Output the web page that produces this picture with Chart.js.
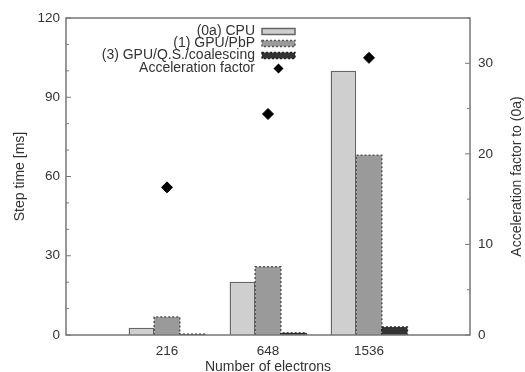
<!DOCTYPE html>
<html>
<head>
<meta charset="utf-8">
<script src="https://cdn.jsdelivr.net/npm/chart.js@4.4.1/dist/chart.umd.min.js"></script>
<style>
  html, body { margin: 0; padding: 0; background: #fff; }
  #wrap { width: 525px; height: 372px; }
</style>
</head>
<body>
<div id="wrap"><canvas id="stepChart" width="525" height="372"></canvas></div>
<script>
// categories (empty slots at both ends give the gnuplot-like spacing)
const electrons = ['', '216', '648', '1536', ''];

// step time [ms]
const cpuTimes = [null, 2.7, 20.2, 100, null];
const pbpTimes = [null, 6.8, 25.8, 68, null];
const qsTimes = [null, 0.3, 0.8, 3.0, null];

// acceleration factor to (0a)
const accelFactor = [null, 16.3, 24.4, 30.6, null];

const seriesNames = ['(0a) CPU', '(1) GPU/PbP', '(3) GPU/Q.S./coalescing', 'Acceleration factor'];

const textColor = '#333';
const axisColor = '#777';
const fontFamily = '"Liberation Sans", Arial, Helvetica, sans-serif';

// inward gnuplot style ticks + top frame
const frameTicks = {
    id: 'frameTicks',
    afterDraw(chart) {
        const c = chart.ctx;
        const a = chart.chartArea;
        c.save();
        c.strokeStyle = axisColor;
        c.lineWidth = 1.5;
        c.strokeRect(a.left, a.top, a.right - a.left, a.bottom - a.top);
        c.lineWidth = 1;
        const y = chart.scales.y;
        y.ticks.forEach(t => {
            const py = y.getPixelForValue(t.value);
            const len = (t.value % 30 === 0) ? 5 : 3;
            c.beginPath(); c.moveTo(a.left, py); c.lineTo(a.left + len, py); c.stroke();
        });
        const y1 = chart.scales.y1;
        y1.ticks.forEach(t => {
            const py = y1.getPixelForValue(t.value);
            const len = (t.value % 10 === 0) ? 5 : 3;
            c.beginPath(); c.moveTo(a.right, py); c.lineTo(a.right - len, py); c.stroke();
        });
        // right axis title, reading bottom to top like the left one
        c.fillStyle = textColor;
        c.font = '14px ' + fontFamily;
        c.textAlign = 'center';
        c.textBaseline = 'middle';
        c.translate(517, (a.top + a.bottom) / 2);
        c.rotate(-Math.PI / 2);
        c.fillText('Acceleration factor to (0a)', 0, 0);
        c.restore();
    }
};

// dashed outlines for the GPU bars
const dashedBars = {
    id: 'dashedBars',
    afterDatasetsDraw(chart) {
        const c = chart.ctx;
        chart.data.datasets.forEach((ds, i) => {
            if (!ds.dashBorder) return;
            chart.getDatasetMeta(i).data.forEach((el, j) => {
                if (ds.data[j] == null) return;
                const l = el.x - el.width / 2, r = el.x + el.width / 2;
                c.save();
                c.strokeStyle = ds.dashBorder;
                c.lineWidth = 1.5;
                c.setLineDash([2, 2]);
                c.beginPath();
                c.moveTo(l, el.base); c.lineTo(l, el.y); c.lineTo(r, el.y); c.lineTo(r, el.base);
                c.stroke();
                c.restore();
            });
        });
    }
};

// legend: text right aligned, sample on the right
const keyLegend = {
    id: 'keyLegend',
    afterDraw(chart) {
        const c = chart.ctx;
        const a = chart.chartArea;
        const sx = a.left + 196, sw = 33;
        const rows = [31.5, 43.5, 55.5, 68.5];
        c.save();
        c.font = '14px ' + fontFamily;
        c.textAlign = 'right';
        c.textBaseline = 'middle';
        chart.data.datasets.forEach((ds, i) => {
            const ry = rows[i];
            c.fillStyle = textColor;
            c.fillText(ds.label, sx - 7, ry);
            if (ds.type === 'line') {
                c.fillStyle = '#000';
                c.beginPath();
                c.moveTo(sx + sw / 2, ry - 5); c.lineTo(sx + sw / 2 + 5, ry);
                c.lineTo(sx + sw / 2, ry + 5); c.lineTo(sx + sw / 2 - 5, ry);
                c.closePath(); c.fill();
                return;
            }
            c.fillStyle = ds.backgroundColor;
            c.fillRect(sx, ry - 3, sw, 6);
            c.lineWidth = 1.5;
            if (ds.dashBorder) {
                c.strokeStyle = ds.dashBorder;
                c.setLineDash([2, 2]);
            } else {
                c.strokeStyle = ds.borderColor;
                c.setLineDash([]);
            }
            c.strokeRect(sx, ry - 3, sw, 6);
            c.setLineDash([]);
        });
        c.restore();
    }
};

const ctx = document.getElementById('stepChart').getContext('2d');
const stepChart = new Chart(ctx, {
    data: {
        labels: electrons,
        datasets: [
            {
                type: 'bar',
                label: seriesNames[0],
                data: cpuTimes,
                backgroundColor: '#cfcfcf',
                borderColor: '#666',
                borderWidth: 1.5,
                borderSkipped: 'bottom',
                yAxisID: 'y',
                order: 1
            },
            {
                type: 'bar',
                label: seriesNames[1],
                data: pbpTimes,
                backgroundColor: '#9a9a9a',
                borderWidth: 0,
                dashBorder: '#555',
                yAxisID: 'y',
                order: 1
            },
            {
                type: 'bar',
                label: seriesNames[2],
                data: qsTimes,
                backgroundColor: '#333',
                borderWidth: 0,
                dashBorder: '#222',
                yAxisID: 'y',
                order: 1
            },
            {
                type: 'line',
                label: seriesNames[3],
                data: accelFactor,
                showLine: false,
                pointStyle: 'rectRot',
                pointRadius: 5.5,
                backgroundColor: '#000',
                borderColor: '#000',
                yAxisID: 'y1',
                order: 0
            }
        ]
    },
    options: {
        responsive: false,
        animation: false,
        layout: { padding: { top: 18, left: 0, right: 0, bottom: 0 } },
        datasets: {
            bar: { categoryPercentage: 0.76, barPercentage: 1 }
        },
        scales: {
            x: {
                type: 'category',
                offset: false,
                grid: { display: false, drawTicks: false },
                border: { display: false },
                ticks: {
                    color: textColor,
                    padding: 8,
                    maxRotation: 0,
                    autoSkip: false,
                    font: { size: 13.5, family: fontFamily }
                },
                title: {
                    display: true,
                    text: 'Number of electrons',
                    color: textColor,
                    padding: { top: 0, bottom: -4 },
                    font: { size: 14, family: fontFamily }
                },
                afterFit(scale) { scale.height = 37; }
            },
            y: {
                position: 'left',
                min: 0,
                max: 120,
                grid: { display: false, drawTicks: false },
                border: { display: false },
                ticks: {
                    stepSize: 10,
                    padding: 6,
                    color: textColor,
                    font: { size: 13.5, family: fontFamily },
                    callback: v => (v % 30 === 0 ? v : '')
                },
                title: {
                    display: true,
                    text: 'Step time [ms]',
                    color: textColor,
                    padding: { top: 12, bottom: 0 },
                    font: { size: 14, family: fontFamily }
                },
                afterFit(scale) { scale.width = 66; }
            },
            y1: {
                position: 'right',
                min: 0,
                max: 35,
                grid: { display: false, drawTicks: false },
                border: { display: false },
                ticks: {
                    stepSize: 5,
                    padding: 8,
                    color: textColor,
                    font: { size: 13.5, family: fontFamily },
                    callback: v => (v % 10 === 0 ? v : '')
                },
                afterFit(scale) { scale.width = 55; }
            }
        },
        plugins: {
            legend: { display: false },
            tooltip: { enabled: false }
        }
    },
    plugins: [frameTicks, dashedBars, keyLegend]
});
</script>
</body>
</html>
